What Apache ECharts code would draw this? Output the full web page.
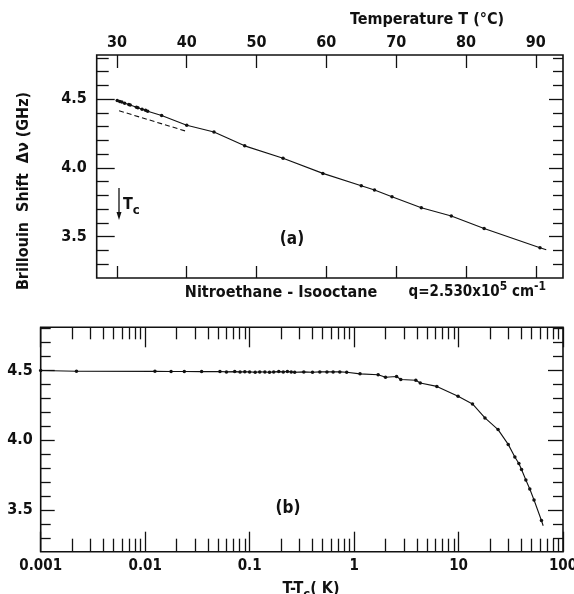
<!DOCTYPE html>
<html><head><meta charset="utf-8">
<script src="https://cdn.jsdelivr.net/npm/echarts@6/dist/echarts.min.js"></script>
<style>html,body{margin:0;padding:0;background:#fff}#chart{width:574px;height:594px}</style>
</head><body><div id="chart"></div>
<script>
// Panel (a): Brillouin shift versus temperature
const tempC = [30.04, 30.4, 30.7, 31.1, 31.7, 31.9, 32.8, 33.0, 33.6, 34.1, 34.4, 36.4, 40.0, 43.9, 48.3, 53.8, 59.5, 65.0, 66.9, 69.4, 73.6, 77.9, 82.6, 90.6];
const shiftA = [4.49, 4.483, 4.478, 4.47, 4.46, 4.456, 4.44, 4.437, 4.426, 4.418, 4.412, 4.38, 4.31, 4.26, 4.16, 4.07, 3.96, 3.87, 3.84, 3.79, 3.71, 3.65, 3.56, 3.42];
const tailA = [91.5, 3.405];            // end of the drawn line past the last point
const dashedT = [30.3, 40.0];
const dashedShift = [4.415, 4.265];
const tempTicks = [30, 40, 50, 60, 70, 80, 90];
const shiftMajor = [3.5, 4.0, 4.5];
const shiftMinor = [3.3, 3.4, 3.6, 3.7, 3.8, 3.9, 4.1, 4.2, 4.3, 4.4, 4.6, 4.7, 4.8];

// Panel (b): Brillouin shift versus T - Tc (log scale)
const dT = [0.001, 0.0022, 0.0124, 0.0177, 0.0237, 0.0347, 0.052, 0.06, 0.072, 0.081, 0.09, 0.1,
  0.113, 0.125, 0.14, 0.155, 0.17, 0.19, 0.21, 0.23, 0.25, 0.27, 0.33, 0.40, 0.47, 0.55, 0.63,
  0.73, 0.85, 1.14, 1.7, 2.0, 2.55, 2.8, 3.9, 4.3, 6.2, 9.9, 13.6, 17.9, 23.9, 29.9, 34.6, 37.8,
  40.1, 44.1, 48.1, 52.8, 62.2];
const shiftB = [4.5, 4.495, 4.494, 4.493, 4.493, 4.492, 4.493, 4.49, 4.492, 4.49, 4.491, 4.49,
  4.488, 4.49, 4.489, 4.488, 4.49, 4.492, 4.49, 4.493, 4.49, 4.487, 4.49, 4.488, 4.49, 4.49, 4.49,
  4.49, 4.488, 4.476, 4.47, 4.452, 4.457, 4.436, 4.43, 4.41, 4.386, 4.316, 4.26, 4.16, 4.076, 3.97, 3.88, 3.833,
  3.79, 3.714, 3.65, 3.571, 3.424];
const tailB = [64.6, 3.386];
const decadeTicks = [0.001, 0.01, 0.1, 1, 10, 100];
const decadeLabels = ['0.001', '0.01', '0.1', '1', '10', '100'];
const logMinor = [];
for (let d = 0.001; d < 99; d *= 10) for (let k = 2; k <= 9; k++) logMinor.push(+(d * k).toPrecision(3));

const FONT = 'DejaVu Sans Condensed';
const INK = '#111';
const labelStyle = { color: INK, fontFamily: FONT, fontWeight: 'bold', fontSize: 16 };

function tickAxis(extra) {
  return Object.assign({
    axisLine: { show: false },
    splitLine: { show: false },
    axisLabel: { show: false },
    axisTick: { inside: true, lineStyle: { color: INK, width: 1.3 } }
  }, extra);
}
function withTicks(vals, len) {
  return { inside: true, length: len, customValues: vals, lineStyle: { color: INK, width: 1.3 } };
}
function decadeLabel(v) {
  let best = 0;
  decadeTicks.forEach((t, i) => {
    if (Math.abs(Math.log10(t) - Math.log10(v)) < Math.abs(Math.log10(decadeTicks[best]) - Math.log10(v))) best = i;
  });
  return decadeLabels[best];
}
// text styles for annotations with sub/superscripts
function richText(size) {
  return {
    m: { fontFamily: FONT, fontWeight: 'bold', fontSize: size, fill: INK, lineHeight: size + 8 },
    sup: { fontFamily: FONT, fontWeight: 'bold', fontSize: size - 3, fill: INK, verticalAlign: 'top', lineHeight: size + 8 },
    sub: { fontFamily: FONT, fontWeight: 'bold', fontSize: size - 3, fill: INK, verticalAlign: 'bottom', lineHeight: size + 8 }
  };
}

const chart = echarts.init(document.getElementById('chart'), null, { renderer: 'canvas' });

const gridStyle = { show: true, borderColor: INK, borderWidth: 1.6, backgroundColor: 'transparent',
  containLabel: false, outerBoundsMode: 'none' };

const option = {
  animation: false,
  backgroundColor: '#fff',
  grid: [
    Object.assign({ left: 96.7, top: 55, right: 11, height: 223 }, gridStyle),
    Object.assign({ left: 40.7, top: 327.3, right: 11, height: 224.4 }, gridStyle)
  ],
  xAxis: [
    tickAxis({ gridIndex: 0, type: 'value', position: 'top', min: 27.1, max: 93.9,
      axisTick: withTicks(tempTicks, 13),
      axisLabel: Object.assign({ show: true, customValues: tempTicks, margin: 4 }, labelStyle) }),
    tickAxis({ gridIndex: 0, type: 'value', position: 'bottom', min: 27.1, max: 93.9,
      axisTick: withTicks(tempTicks, 12) }),
    tickAxis({ gridIndex: 1, type: 'log', position: 'bottom', min: 0.001, max: 100,
      axisTick: withTicks(decadeTicks, 20),
      axisLabel: Object.assign({ show: true, customValues: decadeTicks, margin: 7,
        formatter: decadeLabel }, labelStyle, { fontSize: 15 }) }),
    tickAxis({ gridIndex: 1, type: 'log', position: 'bottom', min: 0.001, max: 100,
      axisTick: withTicks(logMinor, 13) }),
    tickAxis({ gridIndex: 1, type: 'log', position: 'top', min: 0.001, max: 100,
      axisTick: withTicks(decadeTicks, 20) }),
    tickAxis({ gridIndex: 1, type: 'log', position: 'top', min: 0.001, max: 100,
      axisTick: withTicks(logMinor, 12) })
  ],
  yAxis: [
    tickAxis({ gridIndex: 0, type: 'value', position: 'left', min: 3.2, max: 4.82,
      axisTick: withTicks(shiftMajor, 18),
      axisLabel: Object.assign({ show: true, customValues: shiftMajor, margin: 10,
        formatter: v => v.toFixed(1) }, labelStyle) }),
    tickAxis({ gridIndex: 0, type: 'value', position: 'left', min: 3.2, max: 4.82,
      axisTick: withTicks(shiftMinor, 12) }),
    tickAxis({ gridIndex: 0, type: 'value', position: 'right', min: 3.2, max: 4.82,
      axisTick: withTicks(shiftMajor, 14) }),
    tickAxis({ gridIndex: 0, type: 'value', position: 'right', min: 3.2, max: 4.82,
      axisTick: withTicks(shiftMinor, 10) }),
    tickAxis({ gridIndex: 1, type: 'value', position: 'left', min: 3.2, max: 4.81,
      axisTick: withTicks(shiftMajor, 14),
      axisLabel: Object.assign({ show: true, customValues: shiftMajor, margin: 8,
        formatter: v => v.toFixed(1) }, labelStyle) }),
    tickAxis({ gridIndex: 1, type: 'value', position: 'left', min: 3.2, max: 4.81,
      axisTick: withTicks(shiftMinor, 10) }),
    tickAxis({ gridIndex: 1, type: 'value', position: 'right', min: 3.2, max: 4.81,
      axisTick: withTicks(shiftMajor, 15) }),
    tickAxis({ gridIndex: 1, type: 'value', position: 'right', min: 3.2, max: 4.81,
      axisTick: withTicks(shiftMinor, 10) })
  ],
  series: [
    {
      type: 'line', xAxisIndex: 0, yAxisIndex: 0,
      data: tempC.map((t, i) => [t, shiftA[i]]).concat([{ value: tailA, symbol: 'none' }]),
      symbol: 'circle', symbolSize: 3.5, itemStyle: { color: INK },
      lineStyle: { color: INK, width: 1.1 }
    },
    {
      type: 'line', xAxisIndex: 0, yAxisIndex: 0,
      data: dashedT.map((t, i) => [t, dashedShift[i]]),
      symbol: 'none', lineStyle: { color: INK, width: 1.1, type: [5, 3] }
    },
    {
      type: 'line', xAxisIndex: 2, yAxisIndex: 4,
      data: dT.map((t, i) => [t, shiftB[i]]).concat([{ value: tailB, symbol: 'none' }]),
      symbol: 'circle', symbolSize: 3.5, itemStyle: { color: INK },
      lineStyle: { color: INK, width: 1.1 }
    }
  ],
  graphic: [
    { type: 'text', x: 427, y: 20, style: { text: 'Temperature T (°C)', font: 'bold 16px "' + FONT + '"', fill: INK, textAlign: 'center', textVerticalAlign: 'middle' } },
    { type: 'text', x: 24, y: 191, rotation: Math.PI / 2, style: { text: 'Brillouin  Shift  Δν (GHz)', font: 'bold 16px "' + FONT + '"', fill: INK, textAlign: 'center', textVerticalAlign: 'middle' } },
    { type: 'line', shape: { x1: 119, y1: 188, x2: 119, y2: 214 }, style: { stroke: INK, lineWidth: 1.3 } },
    { type: 'polygon', shape: { points: [[116.5, 212], [121.5, 212], [119, 220]] }, style: { fill: INK } },
    { type: 'text', x: 123, y: 205, style: { text: '{m|T}{sub|c}', rich: richText(16), textVerticalAlign: 'middle' } },
    { type: 'text', x: 292, y: 240, style: { text: '(a)', font: 'bold 17px "' + FONT + '"', fill: INK, textAlign: 'center', textVerticalAlign: 'middle' } },
    { type: 'text', x: 281, y: 293, style: { text: 'Nitroethane - Isooctane', font: 'bold 16px "' + FONT + '"', fill: INK, textAlign: 'center', textVerticalAlign: 'middle' } },
    { type: 'text', x: 546, y: 292, style: { text: '{m|q=2.530x10}{sup|5}{m| cm}{sup|-1}', rich: richText(15), textAlign: 'right', textVerticalAlign: 'middle' } },
    { type: 'text', x: 288, y: 509, style: { text: '(b)', font: 'bold 17px "' + FONT + '"', fill: INK, textAlign: 'center', textVerticalAlign: 'middle' } },
    { type: 'text', x: 311, y: 577, style: { text: '{m|T-T}{sub|c}{m|( K)}', rich: richText(16), textAlign: 'center', textVerticalAlign: 'top' } }
  ]
};
chart.setOption(option);
</script></body></html>
